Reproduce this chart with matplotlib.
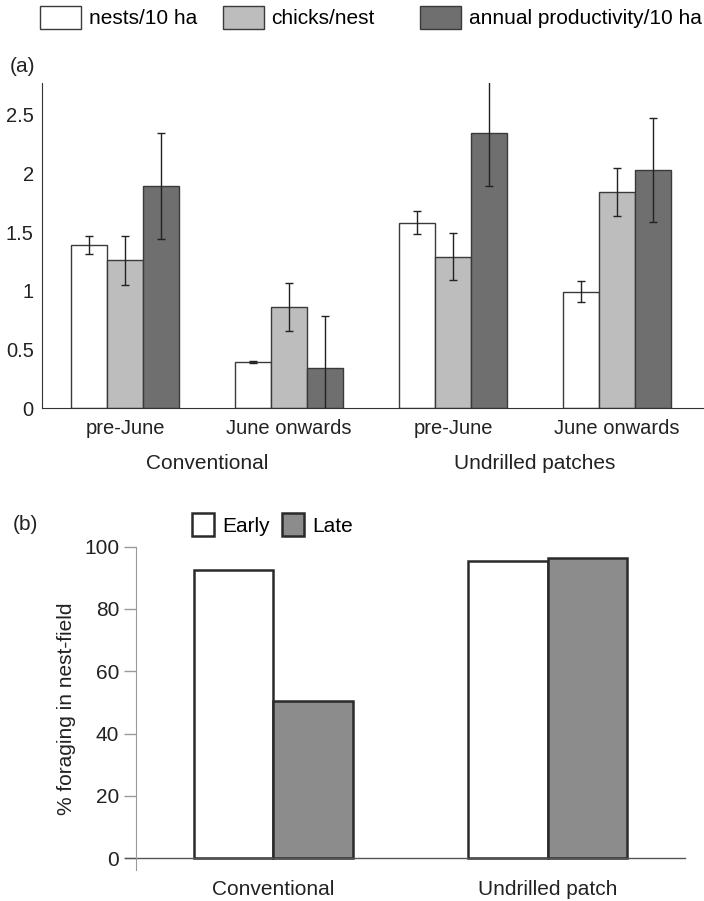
import numpy as np
import matplotlib.pyplot as plt
from matplotlib.transforms import blended_transform_factory

plt.rcParams['font.family'] = ['Liberation Sans', 'DejaVu Sans']

# panel (a)
periods = ["pre-June", "June onwards", "pre-June", "June onwards"]
systems = ["Conventional", "Undrilled patches"]
series_a = ["nests/10 ha", "chicks/nest", "annual productivity/10 ha"]
nests = [1.39, 0.39, 1.58, 0.99]
nests_err = [0.08, 0.01, 0.10, 0.09]
chicks = [1.26, 0.86, 1.29, 1.84]
chicks_err = [0.21, 0.205, 0.20, 0.205]
annual = [1.89, 0.344, 2.34, 2.03]
annual_err = [0.45, 0.44, 0.445, 0.445]

# panel (b)
sites = ["Conventional", "Undrilled patch"]
early = [92.6, 95.5]
late = [50.5, 96.4]

W, H = 704, 901
fig = plt.figure(figsize=(W / 100, H / 100), dpi=100)
txt = "#222222"

# ---- (a) ----
ax = fig.add_axes([42 / W, 1 - 408 / H, 1 - 42 / W, (408 - 83) / H])
x = np.arange(len(periods))
bw = 0.22
cols = ["white", "#bdbdbd", "#6f6f6f"]
vals = [nests, chicks, annual]
errs = [nests_err, chicks_err, annual_err]
handles = []
for i in range(3):
    b = ax.bar(x + (i - 1) * bw, vals[i], bw, color=cols[i], edgecolor="#3a3a3a",
               linewidth=1.0, yerr=errs[i], capsize=3,
               error_kw=dict(ecolor="#222222", elinewidth=1.0, capthick=1.0),
               label=series_a[i])
    handles.append(b)
ax.set_xlim(-0.506, 3.53)
ax.set_ylim(0, 2.77)
ax.set_yticks([0, 0.5, 1, 1.5, 2, 2.5])
ax.set_yticklabels(["0", "0.5", "1", "1.5", "2", "2.5"])
ax.set_xticks(x)
ax.set_xticklabels(periods)
ax.tick_params(axis="y", length=0, labelsize=14.5, pad=6, colors=txt)
ax.tick_params(axis="x", length=0, labelsize=14.5, pad=8, colors=txt)
for s in ["top", "right"]:
    ax.spines[s].set_visible(False)
ax.spines["left"].set_color("#333333")
ax.spines["bottom"].set_color("#333333")
trans = blended_transform_factory(ax.transData, ax.transAxes)
for j, name in enumerate(systems):
    ax.text(2 * j + 0.5, -0.142, name, transform=trans,
            ha="center", va="top", fontsize=15, color=txt, clip_on=False)

# legend entries sit at uneven spacing in the original
for h, lab, lx in zip(handles, series_a, [40, 223, 420]):
    fig.legend(handles=[h], labels=[lab], loc="upper left",
               bbox_to_anchor=(lx / W, 1 - 6 / H), frameon=False, fontsize=15,
               borderpad=0, borderaxespad=0,
               handlelength=1.95, handleheight=1.3, handletextpad=0.38)
fig.text(10 / W, 1 - 67 / H, "(a)", fontsize=15, va="center", ha="left", color=txt)

# ---- (b) ----
bx = fig.add_axes([136 / W, 1 - 870 / H, (685 - 136) / W, (870 - 546.7) / H])
xb = np.arange(len(sites))
bw2 = 0.29
bx.bar(xb - bw2 / 2, early, bw2, color="white", edgecolor="#2a2a2a", linewidth=1.8, label="Early")
bx.bar(xb + bw2 / 2, late, bw2, color="#8c8c8c", edgecolor="#2a2a2a", linewidth=1.8, label="Late")
bx.axhline(0, color="#555555", linewidth=1.0, xmin=-0.02, xmax=1.0, clip_on=False)
bx.set_xlim(-0.5, 1.5)
bx.set_ylim(-3.8, 100)
bx.set_yticks([0, 20, 40, 60, 80, 100])
bx.set_xticks(xb)
bx.set_xticklabels(sites)
bx.tick_params(axis="y", length=9, width=1.0, color="#999999", labelsize=15, pad=3, labelcolor=txt)
bx.tick_params(axis="x", length=0, labelsize=15, pad=7, labelcolor=txt)
for s in ["top", "right", "bottom"]:
    bx.spines[s].set_visible(False)
bx.spines["left"].set_color("#999999")
bx.set_ylabel("% foraging in nest-field", fontsize=15, color=txt, labelpad=6)
bx.legend(loc="upper left", ncol=2, bbox_to_anchor=(192 / W, 1 - 513 / H),
          bbox_transform=fig.transFigure, frameon=False, fontsize=15,
          borderpad=0, borderaxespad=0,
          handlelength=1.05, handleheight=1.35, handletextpad=0.42, columnspacing=0.55)
fig.text(13 / W, 1 - 525 / H, "(b)", fontsize=15, va="center", ha="left", color=txt)

fig.savefig("out.png", dpi=100)
